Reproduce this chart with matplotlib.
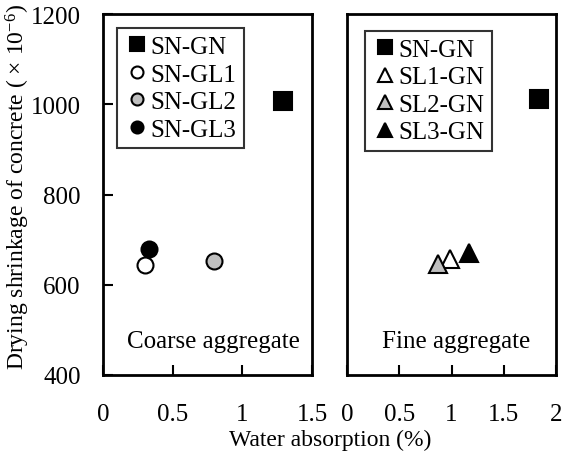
import matplotlib
matplotlib.use("Agg")
import matplotlib.pyplot as plt

plt.rcParams['font.family'] = ['Liberation Serif', 'DejaVu Serif']
plt.rcParams['mathtext.fontset'] = 'custom'
plt.rcParams['mathtext.rm'] = 'Liberation Serif'
plt.rcParams['mathtext.it'] = 'Liberation Serif:italic'

# Coarse aggregate panel
coarse_labels = ['SN-GN', 'SN-GL1', 'SN-GL2', 'SN-GL3']
coarse_x = [1.29, 0.30, 0.80, 0.33]
coarse_y = [1008, 644, 653, 679]
coarse_markers = ['s', 'o', 'o', 'o']
coarse_colors = ['black', 'white', '#bfbfbf', 'black']

# Fine aggregate panel
fine_labels = ['SN-GN', 'SL1-GN', 'SL2-GN', 'SL3-GN']
fine_x = [1.84, 0.99, 0.87, 1.17]
fine_y = [1011, 657, 647, 670]
fine_markers = ['s', '^', '^', '^']
fine_colors = ['black', 'white', '#bfbfbf', 'black']

W, H = 563, 452
fig = plt.figure(figsize=(W / 100, H / 100), dpi=100)
axL = fig.add_axes([103 / W, (H - 376) / H, 209 / W, 361 / H])
axR = fig.add_axes([347 / W, (H - 376) / H, 209 / W, 361 / H])

FS = 18

def draw(ax, labels, xs, ys, markers, colors, xmax, xticks, text, text_x, leg_anchor):
    for lab, x, y, m, c in zip(labels, xs, ys, markers, colors):
        ms = 12.5 if m == 's' else (11.5 if m == 'o' else 12.5)
        ax.plot([x], [y], linestyle='none', marker=m, markersize=ms,
                markerfacecolor=c, markeredgecolor='black', markeredgewidth=1.5,
                label=lab)
    ax.set_xlim(0, xmax)
    ax.set_ylim(400, 1200)
    ax.set_xticks(xticks)
    ax.set_xticklabels([('%g' % t) for t in xticks], fontsize=FS)
    ax.tick_params(axis='x', direction='in', length=7, width=1.5, pad=20)
    for s in ax.spines.values():
        s.set_linewidth(2)
    ax.text(text_x, 475, text, fontsize=FS, ha='center', va='center')
    leg = ax.legend(loc='upper left', bbox_to_anchor=leg_anchor, fontsize=FS,
                    frameon=True, fancybox=False, handlelength=1.0,
                    handletextpad=0.05, labelspacing=0.2, borderpad=0.3,
                    borderaxespad=0, markerscale=0.75)
    leg.get_frame().set_edgecolor('black')
    leg.get_frame().set_linewidth(1.5)

draw(axL, coarse_labels, coarse_x, coarse_y, coarse_markers, coarse_colors,
     1.5, [0, 0.5, 1, 1.5], 'Coarse aggregate', 0.79, (0.067, 0.961))
draw(axR, fine_labels, fine_x, fine_y, fine_markers, fine_colors,
     2, [0, 0.5, 1, 1.5, 2], 'Fine aggregate', 1.04, (0.086, 0.953))

axL.set_yticks([400, 600, 800, 1000, 1200])
axL.set_yticklabels(['400', '600', '800', '1000', '1200'], fontsize=FS)
axL.tick_params(axis='y', direction='in', length=7, width=1.5, pad=16)
axR.set_yticks([])

fig.text(18 / W, 1 - 187 / H, r'Drying shrinkage of concrete ( × 10$^{\mathrm{-6}}$)',
         rotation=90, fontsize=17, ha='center', va='center')
fig.text(330 / W, 1 - 440 / H, 'Water absorption (%)', fontsize=17,
         ha='center', va='center')

fig.savefig('out.png', dpi=100)
